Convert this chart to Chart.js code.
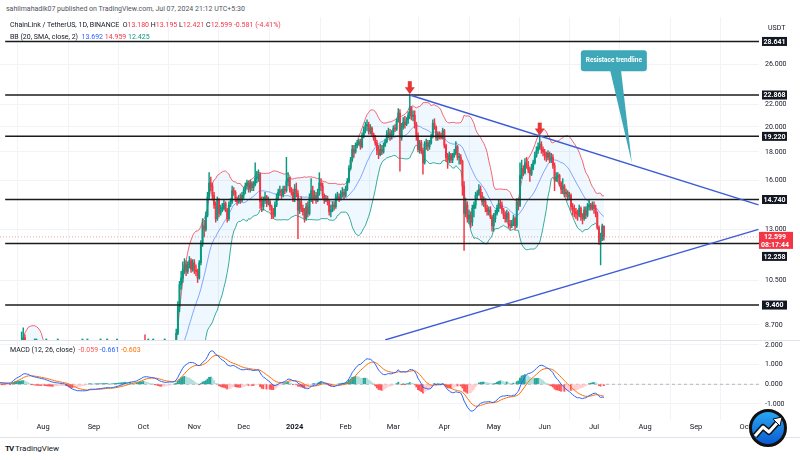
<!DOCTYPE html>
<html lang="en">
  <head>
    <meta charset="UTF-8" />
    <title>ChainLink / TetherUS, 1D</title>
    <style>
      html, body { margin: 0; padding: 0; }
      body {
        width: 800px; height: 460px; position: relative; overflow: hidden; background: #fff;
        font-family: Roboto, "Liberation Sans", sans-serif; color: #131722;
      }
      canvas { position: absolute; left: 0; }
      #priceChart { top: 17px; }
      #macdChart { top: 340px; }
      .t { position: absolute; white-space: nowrap; font-size: 7px; line-height: 9px; }
      .up { color: #089981; } .dn { color: #f23645; } .bl { color: #2962ff; }
      .or { color: #ff6d00; } .rd { color: #ff5252; }
      .rule { position: absolute; left: 0; width: 800px; height: 0; border-top: 1px solid #e0e3eb; }
      #callout {
        position: absolute; color: #fff; font-size: 6.5px; font-weight: bold;
        text-align: center; white-space: nowrap;
      }
    </style>
  </head>
  <body>
    <div class="t" style="left:6px;top:5px;color:#50535e">sahilmahadik07 published on TradingView.com, Jul 07, 2024 21:12 UTC+5:30</div>
    <canvas id="priceChart" width="800" height="323"></canvas>
    <canvas id="macdChart" width="800" height="98"></canvas>
    <div class="rule" style="top:340px"></div>
    <div class="rule" style="top:437px"></div>
    <div class="t" style="left:10px;top:21px">ChainLink / TetherUS, 1D, BINANCE&nbsp; O<span class="dn">13.180</span> H<span class="dn">13.195</span> L<span class="dn">12.421</span> C<span class="dn">12.599</span> <span class="dn">-0.581 (-4.41%)</span></div>
    <div class="t" style="left:10px;top:33px">BB (20, SMA, close, 2)&nbsp; <span class="bl">13.692</span> <span class="dn">14.959</span> <span class="up">12.425</span></div>
    <div class="t" style="left:768px;top:24px">USDT</div>
    <div class="t" style="left:10px;top:346px">MACD (12, 26, close)&nbsp; <span class="rd">-0.059</span> <span class="bl">-0.661</span> <span class="or">-0.603</span></div>
    <div class="t" style="left:5px;top:444px;font-size:8px;line-height:10px"><b style="letter-spacing:-1px">TV</b> TradingView</div>
    <div id="callout">Resistace trendline</div>
    <svg style="position:absolute;left:748px;top:408px" width="40" height="40" viewBox="0 0 40 40">
      <defs>
        <linearGradient id="lg" x1="0" y1="0" x2="0" y2="1">
          <stop offset="0" stop-color="#2aa9f6" />
          <stop offset="1" stop-color="#0a59cf" />
        </linearGradient>
      </defs>
      <circle cx="20" cy="20" r="17.5" fill="url(#lg)" stroke="#111" stroke-width="3" />
      <path d="M7 28 L15 19 L21 24 L30 14" fill="none" stroke="#111" stroke-width="6" stroke-linejoin="round" />
      <path d="M7 28 L15 19 L21 24 L30 14" fill="none" stroke="#fff" stroke-width="3" stroke-linejoin="round" />
      <path d="M25 11 L34 9 L32 18 Z" fill="#fff" stroke="#111" stroke-width="1" />
    </svg>

    <script src="https://cdn.jsdelivr.net/npm/chart.js"></script>
    <script>
      // daily candles from 2023-06-01 (index 0) to 2024-07-07
      const startDate = Date.UTC(2023, 5, 1);
      const close = [
        6.30,6.45,6.42,6.40,5.95,6.20,5.85,5.90,5.75,5.15,5.25,5.20,5.25,5.05,5.15,5.30,5.45,5.40,5.60,5.85,6.20,6.05,6.20,6.05,6.10,5.95,6.15,5.90,6.10,6.25,
        6.25,6.30,6.35,6.25,6.10,5.95,6.05,6.00,6.05,6.10,6.15,6.10,6.95,7.25,7.40,7.50,7.55,7.70,8.10,8.25,8.05,7.70,7.80,7.35,7.45,7.55,7.55,7.55,7.65,7.60,7.50,
        7.70,7.45,7.45,7.35,7.30,7.25,7.20,7.40,7.30,7.30,7.25,7.30,7.20,7.25,6.95,6.65,6.10,6.05,6.10,6.15,6.05,5.95,6.20,6.05,6.05,6.00,6.05,6.05,6.45,6.30,6.00,
        5.95,6.00,6.05,6.00,6.00,6.05,6.10,6.05,6.05,5.90,5.75,5.95,6.05,6.20,6.20,6.25,6.30,6.40,6.60,6.75,6.55,6.70,6.80,6.70,6.75,6.90,7.05,7.40,7.50,7.70,
        7.95,7.75,7.60,7.60,7.40,7.55,7.55,7.50,7.15,7.05,6.95,7.00,7.10,7.10,7.20,7.50,7.45,7.30,7.40,7.85,8.40,9.40,10.30,10.60,11.00,11.20,10.90,11.20,11.40,11.00,11.30,
        10.95,10.90,10.60,11.30,12.20,13.20,13.00,13.80,14.90,15.80,15.60,15.00,14.40,13.60,14.70,13.90,14.20,14.20,14.50,14.10,13.60,14.40,14.60,15.30,15.20,14.80,14.60,14.80,14.70,15.00,
        15.30,15.60,15.80,15.40,15.80,15.50,15.70,16.10,16.20,16.40,14.60,14.30,14.70,14.90,14.50,14.60,14.30,13.90,13.80,14.40,14.80,15.20,15.30,15.00,15.40,15.30,15.90,16.10,15.40,15.20,14.80,
        15.40,15.10,14.10,14.60,14.20,14.00,13.60,14.30,13.90,14.80,15.30,14.80,15.00,14.70,15.10,15.80,15.60,15.00,14.70,14.80,14.60,14.00,14.10,14.40,14.30,14.90,14.90,14.80,15.10,15.20,15.00,
        15.40,15.90,16.80,17.40,18.20,18.00,18.50,18.60,18.80,18.40,19.30,19.70,20.10,20.20,19.60,19.90,19.40,19.10,18.70,18.10,17.80,18.20,18.00,18.50,18.80,19.40,19.50,19.20,19.40,
        19.90,19.80,20.50,21.20,19.10,20.00,20.40,20.20,20.60,21.00,21.70,20.90,21.00,20.20,19.30,18.20,18.70,18.10,17.20,18.60,18.70,18.40,18.70,19.20,20.30,20.00,19.10,19.40,19.30,19.10,19.70,
        18.50,17.60,17.40,17.80,17.40,17.70,17.90,18.40,17.60,17.60,17.30,15.60,13.90,14.40,13.60,13.80,13.40,14.20,14.40,15.00,15.10,15.40,15.00,14.60,14.60,14.20,14.00,14.10,13.70,13.20,
        13.60,13.90,14.20,14.50,14.40,14.10,13.80,13.60,13.90,13.30,13.20,13.30,13.60,13.20,14.60,14.40,16.30,16.80,16.50,17.20,17.00,16.70,16.40,16.80,17.20,17.70,18.10,18.40,18.60,18.20,18.00,
        17.80,17.60,17.90,17.40,17.60,17.00,16.00,16.20,16.30,15.80,15.40,15.60,15.10,15.20,14.90,15.00,14.30,14.20,14.00,13.90,13.80,14.20,13.70,13.60,14.10,13.80,14.30,14.40,14.20,14.40,
        14.20,13.90,13.10,12.35,12.50,13.18,12.599
      ];
      const high = [
        6.45,6.55,6.52,6.50,6.42,6.28,6.25,6.00,5.95,5.80,5.35,5.32,5.35,5.30,5.22,5.38,5.52,5.50,5.68,5.92,6.30,6.25,6.30,6.25,6.18,6.15,6.22,6.18,6.18,6.35,
        6.35,6.38,6.42,6.40,6.28,6.12,6.12,6.10,6.12,6.18,6.22,6.20,7.10,7.50,7.60,7.65,7.70,7.85,8.45,8.60,8.35,8.10,7.95,7.85,7.55,7.65,7.70,7.65,7.75,7.72,7.68,
        7.80,7.75,7.55,7.50,7.40,7.35,7.30,7.50,7.45,7.38,7.35,7.35,7.35,7.32,7.30,7.00,6.70,6.25,6.20,6.22,6.18,6.10,6.25,6.25,6.12,6.10,6.10,6.12,6.60,6.50,6.35,
        6.05,6.05,6.10,6.10,6.05,6.10,6.18,6.15,6.10,6.08,5.95,6.00,6.12,6.28,6.30,6.30,6.38,6.50,6.70,6.85,6.85,6.75,6.88,6.85,6.80,6.95,7.12,7.50,7.65,7.85,
        8.10,8.35,7.85,7.70,7.65,7.62,7.62,7.60,7.52,7.20,7.10,7.08,7.18,7.18,7.25,7.65,7.65,7.50,7.48,7.95,8.55,9.60,10.45,10.90,11.35,11.50,11.40,11.35,11.60,11.50,11.45,
        11.45,11.20,11.00,11.40,12.40,13.60,13.50,14.00,15.20,16.50,16.20,15.80,15.20,14.60,14.90,14.80,14.40,14.50,14.70,14.60,14.20,14.60,14.80,15.60,15.50,15.30,14.90,15.00,15.10,15.20,
        15.50,15.80,16.00,15.95,16.00,15.90,15.90,17.20,16.60,16.70,16.50,14.90,14.90,15.20,15.00,14.90,14.70,14.40,14.20,14.60,15.10,15.40,15.60,15.40,15.60,15.60,17.60,16.50,16.20,15.50,15.40,
        15.70,15.80,15.30,14.80,14.90,14.40,14.20,14.50,14.60,15.10,16.10,15.60,15.30,15.20,15.40,16.50,16.10,15.80,15.10,15.00,14.95,14.70,14.40,14.60,14.60,15.10,15.20,15.10,15.30,15.50,15.40,
        15.60,16.10,17.00,17.60,18.50,18.50,18.70,18.90,19.00,19.00,19.50,20.00,20.40,20.60,20.40,20.20,20.00,19.50,19.30,18.90,18.50,18.60,18.50,18.70,19.00,19.70,19.90,19.80,19.70,
        20.10,20.20,20.70,21.60,21.50,20.30,20.80,20.90,20.80,21.30,22.85,21.80,21.40,21.40,20.40,19.50,18.90,18.90,18.30,18.80,19.00,18.90,18.90,19.40,20.60,20.70,20.10,19.60,19.60,19.50,19.90,
        19.80,18.60,17.90,18.00,17.90,17.90,18.20,18.80,18.50,17.90,17.80,17.40,15.90,14.80,14.60,14.10,14.00,14.40,14.60,15.20,15.30,15.70,15.60,15.20,14.90,14.80,14.40,14.30,14.30,13.80,
        13.90,14.10,14.40,14.70,14.70,14.60,14.20,14.00,14.10,14.00,13.50,13.50,13.80,13.70,14.80,14.80,17.20,17.40,17.00,17.50,17.60,17.30,16.90,17.10,17.40,18.00,18.40,18.70,19.20,18.80,18.40,
        18.20,18.00,18.10,18.00,17.90,17.80,17.20,16.50,16.50,16.40,15.90,16.10,15.70,15.40,15.30,15.20,15.10,14.50,14.40,14.20,14.10,14.40,14.30,13.90,14.30,14.30,14.50,14.70,14.50,14.60,
        14.60,14.40,14.00,13.20,12.80,13.30,13.195
      ];
      const low = [
        6.20,6.25,6.35,6.32,5.85,5.90,5.80,5.78,5.65,5.05,5.10,5.12,5.15,4.98,5.00,5.10,5.25,5.35,5.35,5.55,5.80,5.95,6.00,6.00,5.98,5.88,5.90,5.85,5.85,6.05,
        6.15,6.18,6.25,6.20,6.05,5.88,5.90,5.95,5.95,6.00,6.05,6.02,6.05,6.85,7.15,7.30,7.35,7.45,7.65,7.95,7.90,7.60,7.62,7.25,7.28,7.40,7.45,7.45,7.50,7.52,7.42,
        7.45,7.40,7.38,7.30,7.22,7.18,7.12,7.15,7.22,7.22,7.18,7.20,7.15,7.15,6.90,6.60,5.90,5.95,5.98,6.05,6.00,5.85,5.90,6.00,5.98,5.95,5.98,5.98,6.02,6.25,5.95,
        5.88,5.92,5.98,5.95,5.95,5.98,6.02,6.00,6.00,5.85,5.65,5.72,5.92,6.02,6.12,6.15,6.22,6.28,6.38,6.55,6.50,6.52,6.65,6.65,6.65,6.72,6.85,7.00,7.35,7.45,
        7.60,7.65,7.50,7.45,7.30,7.35,7.45,7.40,7.05,6.98,6.88,6.90,6.95,7.02,7.05,7.15,7.35,7.20,7.25,7.35,7.80,8.35,9.20,10.10,10.40,10.80,10.70,10.80,11.05,10.85,10.90,
        10.80,10.70,10.40,10.55,11.20,12.10,12.60,12.90,13.70,14.80,15.30,14.70,14.20,13.40,13.50,13.70,13.80,14.00,14.10,14.00,13.40,13.50,14.30,14.50,15.00,14.60,14.40,14.50,14.50,14.60,
        14.80,15.10,15.40,15.20,15.20,15.30,15.30,15.60,15.80,15.90,14.20,14.00,14.10,14.50,14.30,14.40,14.10,13.60,13.60,13.70,14.30,14.70,15.00,14.80,14.90,15.10,15.20,15.60,15.20,15.00,14.60,
        14.60,14.90,12.50,13.90,14.00,13.80,13.40,13.50,13.70,13.80,14.60,14.50,14.70,14.50,14.60,15.00,15.30,14.80,14.50,14.60,14.40,13.80,13.70,14.00,14.10,14.20,14.70,14.60,14.70,14.90,14.80,
        14.90,15.30,15.80,16.70,17.30,17.60,17.90,18.30,18.50,18.20,18.30,19.10,19.50,19.70,19.40,19.40,19.20,18.90,18.50,17.80,17.50,17.70,17.80,17.90,18.40,18.70,19.10,18.90,19.00,
        19.30,19.60,19.70,20.40,16.60,18.90,19.80,19.90,20.10,20.30,20.70,20.60,20.50,19.90,18.90,18.00,17.90,17.90,16.40,17.10,18.20,18.10,18.20,18.60,19.10,19.80,18.90,18.90,19.00,19.00,19.00,
        18.30,17.30,16.80,17.20,17.20,17.20,17.60,17.80,17.40,17.10,17.10,15.00,11.90,13.70,13.40,13.30,13.10,13.20,13.70,14.20,14.80,15.00,14.80,14.40,14.30,14.00,13.80,13.80,13.60,12.90,
        12.90,13.40,13.80,14.00,14.20,13.90,13.60,13.40,13.40,13.10,13.00,13.10,13.20,13.00,13.10,14.10,14.30,16.10,16.30,16.40,16.80,16.50,15.90,16.30,16.70,17.10,17.60,17.90,18.20,17.90,17.70,
        17.40,17.30,17.40,17.20,17.20,16.80,15.30,15.90,15.90,15.60,15.10,15.10,14.90,14.90,14.70,14.80,14.10,13.80,13.70,13.60,13.50,13.70,13.50,13.30,13.50,13.60,13.70,14.10,14.10,14.10,
        13.90,13.70,13.00,12.20,11.20,12.40,12.421
      ];

      const levels = [28.641, 22.868, 19.22, 14.74, 12.258, 9.46];
      const levelStart = "2023-07-09";
      const priceTicks = [26, 22, 20, 18, 16, 13, 10.5, 8.7];
      const macdTicks = [2, 1, 0, -1];
      const monthDates = ["2023-08-01", "2023-09-01", "2023-10-01", "2023-11-01", "2023-12-01", "2024-01-01", "2024-02-01",
        "2024-03-01", "2024-04-01", "2024-05-01", "2024-06-01", "2024-07-01", "2024-08-01", "2024-09-01", "2024-10-01"];
      const monthLabels = ["Aug", "Sep", "Oct", "Nov", "Dec", "2024", "Feb", "Mar", "Apr", "May", "Jun", "Jul", "Aug", "Sep", "Oct"];
      const resistance = [["2024-03-11", 22.868], ["2024-10-09", 14.41]];
      const support = [["2024-02-25", 8.17], ["2024-10-09", 13.0]];
      const arrowMarks = [["2024-03-11", 22.85], ["2024-05-29", 19.2]];
      const calloutBox = ["2024-06-23", 27.6];
      const calloutTip = ["2024-07-24", 17.18];

      // view window (day index) and styling
      const X_MIN = 34.86, X_MAX = 496.3;
      const UP = "#089981", DOWN = "#f23645";
      const FONT = 'Roboto, "Liberation Sans", sans-serif';
      const dayIdx = (d) => (Date.parse(d) - startDate) / 864e5;
      const monthIdx = monthDates.map(dayIdx);

      const open = close.map((c, i) => (i ? close[i - 1] : c));
      const candleColor = close.map((c, i) => (c >= open[i] ? UP : DOWN));
      const lastPrice = close[close.length - 1];

      // Bollinger Bands (20, SMA, close, 2)
      const bbUpper = [], bbBasis = [], bbLower = [];
      for (let i = 19; i < close.length; i++) {
        const w = close.slice(i - 19, i + 1);
        const m = w.reduce((a, b) => a + b, 0) / 20;
        const sd = Math.sqrt(w.reduce((a, b) => a + (b - m) ** 2, 0) / 20);
        bbBasis.push({ x: i, y: m });
        bbUpper.push({ x: i, y: m + 2 * sd });
        bbLower.push({ x: i, y: m - 2 * sd });
      }

      // MACD (12, 26, close, 9)
      function ema(src, len) {
        const a = 2 / (len + 1), out = [];
        src.forEach((v, i) => out.push(i ? a * v + (1 - a) * out[i - 1] : v));
        return out;
      }
      const ema12 = ema(close, 12), ema26 = ema(close, 26);
      const macd = ema12.map((v, i) => v - ema26[i]);
      const signal = ema(macd, 9);
      const hist = macd.map((v, i) => v - signal[i]);
      const histColor = hist.map((h, i) => {
        const prev = i ? hist[i - 1] : h;
        if (h >= 0) return h > prev ? "#26a69a" : "#b2dfdb";
        return h < prev ? "#ff5252" : "#ffcdd2";
      });

      const flat = (y) => [{ x: X_MIN, y }, { x: X_MAX, y }];
      const seg = (pts) => pts.map(([d, p]) => ({ x: dayIdx(d), y: p }));
      const lineDs = (data, color, width, order, extra) =>
        Object.assign({ type: "line", data, borderColor: color, borderWidth: width, pointRadius: 0, tension: 0, fill: false, order }, extra || {});
      // right price scale: fixed width, no extra inset above/below the plot
      const fitRight = (s) => { s.width = 41; s.paddingTop = 0; s.paddingBottom = 0; };

      const tagPlugin = {
        id: "tags",
        afterDraw(chart) {
          const { ctx, chartArea, scales } = chart;
          const y = scales.y;
          ctx.save();
          ctx.textAlign = "center";
          ctx.textBaseline = "middle";
          ctx.font = "bold 7px " + FONT;
          const lx = chartArea.right + 3;
          levels.forEach((lv) => {
            let py = y.getPixelForValue(lv);
            if (lv === 12.258) py += 13; // pushed below the last-price tag
            ctx.fillStyle = "#131722";
            ctx.fillRect(lx, py - 4.5, 25, 9);
            ctx.fillStyle = "#fff";
            ctx.fillText(lv.toFixed(3), lx + 12.5, py + 0.5);
          });
          const py = y.getPixelForValue(lastPrice);
          ctx.fillStyle = DOWN;
          ctx.fillRect(chartArea.right, py - 5, 34, 17);
          ctx.fillStyle = "#fff";
          ctx.fillText(lastPrice.toFixed(3), chartArea.right + 16, py);
          ctx.fillText("08:17:44", chartArea.right + 16, py + 8);
          ctx.restore();
        },
      };

      const markPlugin = {
        id: "marks",
        afterDatasetsDraw(chart) {
          const { ctx, chartArea, scales: { x, y } } = chart;
          ctx.save();
          ctx.beginPath();
          ctx.rect(chartArea.left, chartArea.top, chartArea.width, chartArea.height);
          ctx.clip();
          ctx.fillStyle = "#e53935";
          arrowMarks.forEach(([d, p]) => {
            const ax = x.getPixelForValue(dayIdx(d)), ay = y.getPixelForValue(p) - 1;
            ctx.fillRect(ax - 2, ay - 13, 4, 7);
            ctx.beginPath();
            ctx.moveTo(ax - 5, ay - 7);
            ctx.lineTo(ax + 5, ay - 7);
            ctx.lineTo(ax, ay);
            ctx.closePath();
            ctx.fill();
          });
          const bx = x.getPixelForValue(dayIdx(calloutBox[0])), by = y.getPixelForValue(calloutBox[1]);
          const tx = x.getPixelForValue(dayIdx(calloutTip[0])), ty = y.getPixelForValue(calloutTip[1]);
          ctx.fillStyle = "#3ea8b8";
          ctx.beginPath();
          ctx.moveTo(bx + 29, by + 19);
          ctx.lineTo(tx, ty);
          ctx.lineTo(bx + 40, by + 19);
          ctx.closePath();
          ctx.fill();
          ctx.beginPath();
          ctx.roundRect(bx, by, 66, 21, 3);
          ctx.fill();
          ctx.restore();
        },
      };

      const priceChart = new Chart(document.getElementById("priceChart"), {
        type: "bar",
        data: {
          datasets: [
            lineDs(bbUpper, "rgba(242,54,69,0.75)", 1, 8),
            lineDs(bbBasis, "rgba(41,98,255,0.55)", 1, 7),
            lineDs(bbLower, "rgba(8,153,129,0.8)", 1, 8, { fill: { target: 0, above: "rgba(33,150,243,0.07)", below: "rgba(33,150,243,0.07)" } }),
            {
              type: "bar", order: 5, grouped: false, barThickness: 0.8, backgroundColor: candleColor,
              data: close.map((c, i) => ({ x: i, y: [low[i], high[i]] })),
            },
            {
              type: "bar", order: 4, grouped: false, barThickness: 1.3, minBarLength: 1, backgroundColor: candleColor,
              data: close.map((c, i) => ({ x: i, y: [open[i], c] })),
            },
            lineDs(flat(lastPrice), "rgba(242,54,69,0.45)", 1, 3, { borderDash: [1, 2] }),
            ...levels.map((lv) => lineDs([{ x: dayIdx(levelStart), y: lv }, { x: X_MAX, y: lv }], "#1b1b1b", 1.5, 2)),
            lineDs(seg(resistance), "#3d5bd6", 1.4, 1),
            lineDs(seg(support), "#3d5bd6", 1.4, 1),
          ],
        },
        options: {
          responsive: false,
          animation: false,
          layout: { padding: 0 },
          plugins: { legend: { display: false }, tooltip: { enabled: false } },
          scales: {
            x: {
              type: "linear", min: X_MIN, max: X_MAX, offset: false,
              grid: { color: "#f1f3f7", drawTicks: false },
              border: { display: false },
              ticks: { display: false },
              afterBuildTicks: (s) => { s.ticks = monthIdx.map((v) => ({ value: v })); },
              afterFit: (s) => { s.height = 0; },
            },
            y: {
              type: "logarithmic", position: "right", min: 8.168, max: 31.74,
              grid: { color: "#f1f3f7", drawTicks: false },
              border: { display: false },
              ticks: { color: "#131722", padding: 6, font: { size: 7, family: FONT }, callback: (v) => Number(v).toFixed(3) },
              afterBuildTicks: (s) => { s.ticks = priceTicks.map((v) => ({ value: v })); },
              afterFit: fitRight,
            },
          },
        },
        plugins: [markPlugin, tagPlugin],
      });

      const macdChart = new Chart(document.getElementById("macdChart"), {
        type: "bar",
        data: {
          datasets: [
            lineDs(flat(0), "#b2b5be", 1, 4, { borderDash: [3, 3] }),
            {
              type: "bar", order: 3, grouped: false, barThickness: 1.3, backgroundColor: histColor,
              data: hist.map((h, i) => ({ x: i, y: h })),
            },
            lineDs(signal.map((v, i) => ({ x: i, y: v })), "#ff6d00", 1, 2),
            lineDs(macd.map((v, i) => ({ x: i, y: v })), "#2962ff", 1, 1),
          ],
        },
        options: {
          responsive: false,
          animation: false,
          layout: { padding: 0 },
          plugins: { legend: { display: false }, tooltip: { enabled: false } },
          scales: {
            x: {
              type: "linear", min: X_MIN, max: X_MAX, offset: false,
              grid: { color: "#f1f3f7", drawTicks: false },
              border: { display: false },
              ticks: {
                color: "#131722", padding: 3, maxRotation: 0, autoSkip: false,
                font: (c) => ({ size: 7.5, family: FONT, weight: c.tick && c.tick.label === "2024" ? "bold" : "normal" }),
                callback: (v, i) => monthLabels[i],
              },
              afterBuildTicks: (s) => { s.ticks = monthIdx.map((v) => ({ value: v })); },
              afterFit: (s) => { s.height = 18; s.paddingLeft = 0; s.paddingRight = 0; },
            },
            y: {
              position: "right", min: -1.815, max: 2.25,
              grid: { color: "#f1f3f7", drawTicks: false },
              border: { display: false },
              ticks: { color: "#131722", padding: 6, font: { size: 7, family: FONT }, callback: (v) => Number(v).toFixed(3) },
              afterBuildTicks: (s) => { s.ticks = macdTicks.map((v) => ({ value: v })); },
              afterFit: fitRight,
            },
          },
        },
      });

      // place the callout text on its box
      const cx = priceChart.scales.x.getPixelForValue(dayIdx(calloutBox[0]));
      const cy = priceChart.scales.y.getPixelForValue(calloutBox[1]);
      const callout = document.getElementById("callout");
      callout.style.left = cx + "px";
      callout.style.top = cy + 17 + "px";
      callout.style.width = "66px";
      callout.style.lineHeight = "21px";
    </script>
  </body>
</html>
